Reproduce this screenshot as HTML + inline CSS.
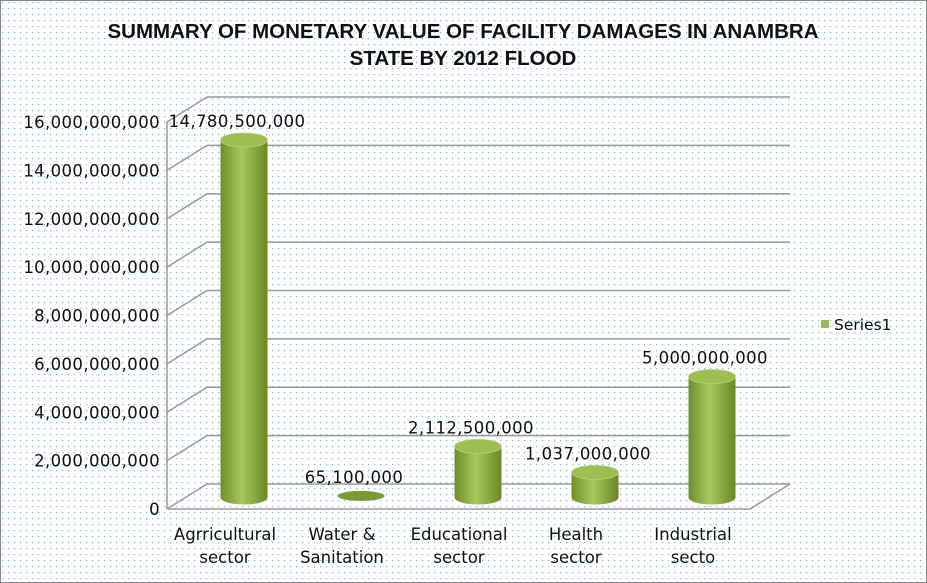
<!DOCTYPE html>
<html><head><meta charset="utf-8"><style>
html,body{margin:0;padding:0;background:#fff;}
svg{display:block;font-family:"DejaVu Sans",sans-serif;}
</style></head><body>
<svg id="chart" width="927" height="583" viewBox="0 0 927 583" xmlns="http://www.w3.org/2000/svg">
<defs>
<pattern id="dots" width="6" height="6" patternUnits="userSpaceOnUse"><rect x="2" y="2" width="1.2" height="1.2" fill="#8fb0d6"/></pattern>
<linearGradient id="cyl" x1="0" x2="1" y1="0" y2="0">
<stop offset="0" stop-color="#6f8e2c"/><stop offset="0.45" stop-color="#a6c95a"/><stop offset="1" stop-color="#6a8728"/></linearGradient>
</defs>
<rect x="0" y="0" width="927" height="583" fill="#fff"/>
<rect x="0" y="0" width="927" height="583" fill="url(#dots)"/>
<rect x="0.5" y="0.5" width="926" height="582" fill="none" stroke="#888"/>
<text x="463" y="38" text-anchor="middle" font-size="20.5" font-weight="bold" fill="#111" style="font-family:'Liberation Sans',sans-serif">SUMMARY OF MONETARY VALUE OF FACILITY  DAMAGES IN ANAMBRA</text>
<text x="463" y="65" text-anchor="middle" font-size="20.5" font-weight="bold" fill="#111" style="font-family:'Liberation Sans',sans-serif">STATE BY 2012 FLOOD</text>
<g id="grid"></g>
<g id="bars"></g>
<g id="labels"></g>
<rect x="821" y="320" width="8" height="8" fill="#9bbb59"/>
<text x="834" y="330" font-size="15.5" fill="#111">Series1</text>
</svg>
<script>
const categories=[["Agrricultural","sector"],["Water &","Sanitation"],["Educational","sector"],["Health","sector"],["Industrial","secto"]];
const values=[14780500000,65100000,2112500000,1037000000,5000000000];
const valueLabels=["14,780,500,000","65,100,000","2,112,500,000","1,037,000,000","5,000,000,000"];
const yTicks=[0,2e9,4e9,6e9,8e9,10e9,12e9,14e9,16e9];
const yTickLabels=["0","2,000,000,000","4,000,000,000","6,000,000,000","8,000,000,000","10,000,000,000","12,000,000,000","14,000,000,000","16,000,000,000"];
const NS="http://www.w3.org/2000/svg";
const FX0=167,FX1=750,FY0=509,DX=40,DY=-25,MAX=16e9,H=387;
const yFront=v=>FY0-v/MAX*H;
const yMid=v=>FY0+DY/2-v/MAX*H+1;
const xCat=i=>244+i*117;
function mk(t,a,p){const e=document.createElementNS(NS,t);for(const k in a)e.setAttribute(k,a[k]);p.appendChild(e);return e;}
const grid=document.getElementById('grid'),bars=document.getElementById('bars'),labels=document.getElementById('labels');
const st={stroke:"#9a9a9a","stroke-width":"1.5",fill:"none"};
const FS="16.5";
yTicks.forEach((v,i)=>{
 const y=yFront(v);
 const g=mk('path',Object.assign({d:`M${FX0} ${y} L${FX0+DX} ${y+DY} L${FX1+DX} ${y+DY}`+(i==0?` M${FX0} ${y} L${FX1} ${y} L${FX1+DX} ${y+DY}`:'')},st),grid);
 
 
 const t=mk('text',{x:160,y:y+6,"text-anchor":"end","font-size":FS,fill:"#111","letter-spacing":"0.4"},labels);
 t.textContent=yTickLabels[i];
 
 
});
const ax=mk('path',Object.assign({d:`M${FX0} ${yFront(0)} L${FX0} ${yFront(MAX)}`},st),grid);


values.forEach((v,i)=>{
 const cx=xCat(i),rx=23.5,ry=7,yb=yMid(0),yt=yMid(v);
 const g=mk('g',{},bars);
 
 
 if(yb-yt>3){
  mk('path',{d:`M${cx-rx} ${yt} L${cx-rx} ${yb} A${rx} ${ry} 0 0 0 ${cx+rx} ${yb} L${cx+rx} ${yt} Z`,fill:"url(#cyl)"},g);
  mk('ellipse',{cx:cx,cy:yt,rx:rx,ry:ry,fill:"#9cbf52",stroke:"#b5d47a","stroke-width":"0.8"},g);
 } else {
  mk('ellipse',{cx:cx,cy:yt,rx:rx,ry:5,fill:"#7a9a34"},g);
 }
 const t=mk('text',{x:cx-7,y:yt-13,"text-anchor":"middle","font-size":FS,fill:"#111","letter-spacing":"0.4"},labels);
 t.textContent=valueLabels[i];
 
 
 categories[i].forEach((s,j)=>{
  const c=mk('text',{x:cx-19,y:540+j*23,"text-anchor":"middle","font-size":FS,fill:"#111"},labels);
  c.textContent=s;
  
  
 });
});
</script>
</body></html>
